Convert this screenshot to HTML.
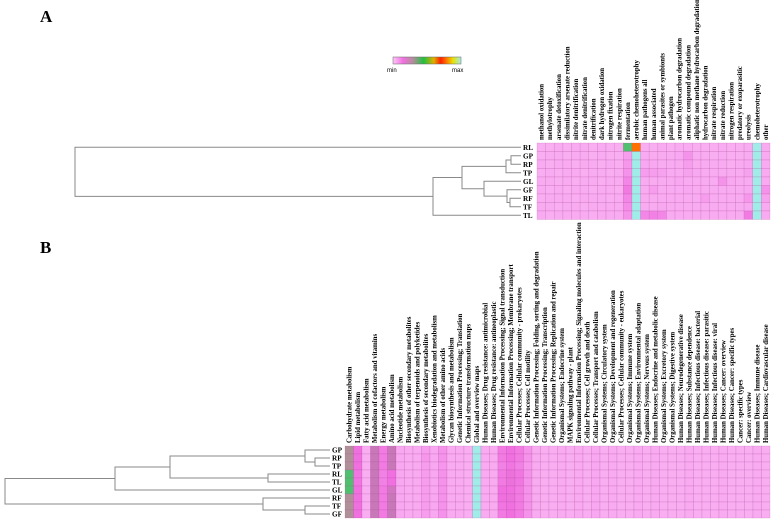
<!DOCTYPE html>
<html><head><meta charset="utf-8"><style>
html,body{margin:0;padding:0;background:#fff;}
svg{display:block;font-family:"Liberation Serif",serif;}
</style></head><body>
<svg id="chart" width="774" height="527" viewBox="0 0 774 527">
<defs>
<linearGradient id="cbar" x1="0" x2="1" y1="0" y2="0">
<stop offset="0" stop-color="#fcc8f8"/><stop offset="0.15" stop-color="#f070e0"/>
<stop offset="0.3" stop-color="#b09098"/><stop offset="0.45" stop-color="#20c040"/>
<stop offset="0.6" stop-color="#e0b000"/><stop offset="0.7" stop-color="#ff2000"/>
<stop offset="0.78" stop-color="#ff7000"/><stop offset="0.88" stop-color="#e8e000"/>
<stop offset="1" stop-color="#a0ece8"/></linearGradient></defs>
<text x="40" y="22" font-size="17" font-weight="bold">A</text>
<text x="40" y="253" font-size="17" font-weight="bold">B</text>
<g>
<rect x="393" y="57" width="68" height="7" fill="url(#cbar)" stroke="#666" stroke-width="0.5"/>
<text x="387" y="72" font-size="6" font-family="Liberation Sans,sans-serif">min</text>
<text x="452" y="72" font-size="6" font-family="Liberation Sans,sans-serif">max</text>
</g>
<g id="pa"></g>
<g id="pb"></g>
</svg>
<script>
const aRows = ["RL","GP","RP","TP","GL","GF","RF","TF","TL"];
const aCols = ["methanol oxidation","methylotrophy","arsenate detoxification","dissimilatory arsenate reduction","nitrite denitrification","nitrate denitrification","denitrification","dark hydrogen oxidation","nitrogen fixation","nitrite respiration","fermentation","aerobic chemoheterotrophy","human pathogens all","human associated","animal parasites or symbionts","plant pathogen","aromatic hydrocarbon degradation","aromatic compound degradation","aliphatic non methane hydrocarbon degradation","hydrocarbon degradation","nitrate respiration","nitrate reduction","nitrogen respiration","predatory or exoparasitic","ureolysis","chemoheterotrophy","other"];
const aVals = [
[8,8,9,8,9,9,8,9,8,8,45,75,8,8,9,8,9,9,8,8,8,9,8,8,9,100,9],
[8,9,9,8,9,9,8,9,8,8,12,100,9,9,9,9,10,14,9,9,8,9,8,8,9,100,9],
[9,8,9,9,8,9,9,8,9,8,13,100,10,10,9,9,9,12,9,9,9,9,8,9,10,100,9],
[8,9,8,9,9,8,9,9,8,9,14,100,12,12,11,9,9,11,10,9,9,9,9,9,11,100,9],
[9,9,8,9,8,9,9,8,9,9,16,100,9,9,9,9,10,9,9,9,9,14,10,9,9,100,9],
[9,8,9,8,9,9,8,9,9,8,18,100,9,12,9,9,9,10,9,9,9,9,9,9,10,100,14],
[8,9,9,9,8,9,9,9,8,9,16,100,9,9,9,9,9,9,9,12,9,9,9,9,13,100,11],
[9,9,8,9,9,8,9,9,9,9,15,100,9,9,10,9,9,9,9,9,9,9,9,9,10,100,9],
[9,8,9,9,9,9,8,9,9,9,14,100,16,17,16,9,9,9,9,9,9,9,9,9,18,100,9]];
const bRows = ["GP","RP","TP","RL","TL","GL","RF","TF","GF"];
const bCols = ["Carbohydrate metabolism","Lipid metabolism","Fatty acid metabolism","Metabolism of cofactors and vitamins","Energy metabolism","Amino acid metabolism","Nucleotide metabolism","Biosynthesis of other secondary metabolites","Metabolism of terpenoids and polyketides","Biosynthesis of secondary metabolites","Xenobiotics biodegradation and metabolism","Metabolism of other amino acids","Glycan biosynthesis and metabolism","Genetic Information Processing; Translation","Chemical structure transformation maps","Global and overview maps","Human Diseases; Drug resistance: antimicrobial","Human Diseases; Drug resistance: antineoplastic","Environmental Information Processing; Signal transduction","Environmental Information Processing; Membrane transport","Cellular Processes; Cellular community - prokaryotes","Cellular Processes; Cell motility","Genetic Information Processing; Folding, sorting and degradation","Genetic Information Processing; Transcription","Genetic Information Processing; Replication and repair","Organismal Systems; Endocrine system","MAPK signaling pathway - plant","Environmental Information Processing; Signaling molecules and interaction","Cellular Processes; Cell growth and death","Cellular Processes; Transport and catabolism","Organismal Systems; Circulatory system","Organismal Systems; Development and regeneration","Cellular Processes; Cellular community - eukaryotes","Organismal Systems; Immune system","Organismal Systems; Environmental adaptation","Organismal Systems; Nervous system","Human Diseases; Endocrine and metabolic disease","Organismal Systems; Excretory system","Organismal Systems; Digestive system","Human Diseases; Neurodegenerative disease","Human Diseases; Substance dependence","Human Diseases; Infectious disease: bacterial","Human Diseases; Infectious disease: parasitic","Human Diseases; Infectious disease: viral","Human Diseases; Cancer: overview","Human Diseases; Cancer: specific types","Cancer: specific types","Cancer: overview","Human Diseases; Immune disease","Human Diseases; Cardiovascular disease"];
const bVals = [
[33,20,8,28,18,28,10,9,9,12,10,14,9,9,8,100,9,9,18,20,18,14,9,8,8,9,8,9,8,10,8,9,8,8,9,8,9,8,8,8,9,8,8,8,9,8,8,8,9,8],
[33,20,8,28,18,28,10,9,9,13,10,14,9,9,8,100,9,9,18,20,18,14,9,8,8,9,8,9,8,10,8,9,8,8,9,8,9,8,8,8,9,8,8,8,9,8,8,8,9,8],
[33,20,8,28,18,28,10,9,9,12,10,13,9,9,8,100,9,9,17,19,17,13,9,8,8,9,8,9,8,10,8,9,8,8,9,8,9,8,8,8,9,8,8,8,9,8,8,8,9,8],
[45,19,8,28,17,20,10,9,9,12,10,14,9,9,8,100,9,9,18,21,19,14,9,8,8,9,8,9,8,10,8,9,8,8,9,8,9,8,8,8,9,8,8,8,9,8,8,8,9,8],
[45,19,8,28,17,20,10,9,9,12,10,14,9,9,8,100,9,9,18,21,19,14,9,8,8,9,8,9,8,10,8,9,8,8,9,8,9,8,8,8,9,8,8,8,9,8,8,8,9,8],
[45,20,8,28,18,26,10,9,9,12,10,14,9,9,8,100,9,9,20,20,18,14,9,8,8,9,8,9,8,10,8,9,8,8,9,8,9,8,8,8,9,8,8,8,9,8,8,8,9,8],
[33,20,8,28,18,28,10,9,9,12,10,14,9,9,8,100,9,9,20,21,18,14,9,8,8,9,8,9,8,10,8,9,8,8,9,8,9,8,8,8,9,8,8,8,9,8,8,8,9,8],
[33,20,8,28,18,28,10,9,9,12,10,14,9,9,8,100,9,9,19,20,18,14,9,8,8,9,8,9,8,10,8,9,8,8,9,8,9,8,8,8,9,8,8,8,9,8,8,8,9,8],
[33,20,8,28,18,28,10,9,9,12,10,14,9,9,8,100,9,9,18,20,18,14,9,8,8,9,8,9,8,10,8,9,8,8,9,8,9,8,8,8,9,8,8,8,9,8,8,8,9,8]];
// dendrogram links: [childA (row index or node id), childB, merge height x]
const aLinks = [[1,2,511],[3,"n0",506],[6,7,510],[5,"n2",507],[4,"n3",484],["n1","n4",462],["n5",8,433],[0,"n6",75]];
const bLinks = [[1,2,315],[0,"n0",305],[3,4,268],["n1","n2",170],["n3",5,115],[7,8,305],[6,"n5",263],["n4","n6",5]];

const NS="http://www.w3.org/2000/svg";
const stops=[[0,[252,200,248]],[10,[248,168,240]],[20,[240,112,224]],[28,[200,120,184]],[33,[176,144,152]],[45,[80,192,112]],[60,[224,192,0]],[70,[255,32,0]],[75,[255,112,0]],[85,[232,224,0]],[100,[160,236,232]]];
function color(v){for(let i=1;i<stops.length;i++){if(v<=stops[i][0]){const a=stops[i-1],b=stops[i],t=(v-a[0])/(b[0]-a[0]);return "rgb("+a[1].map((c,k)=>Math.round(c+(b[1][k]-c)*t)).join(",")+")";}}return "rgb(160,236,232)";}
function el(tag,attrs,parent){const e=document.createElementNS(NS,tag);for(const k in attrs)e.setAttribute(k,attrs[k]);parent.appendChild(e);return e;}

function panel(g,rows,cols,vals,links,cfg){
  const cw=cfg.w/cols.length, rh=cfg.rh;
  const xs=i=>cfg.x0+i*cw, ys=i=>cfg.y0+i*rh;
  const hm=el("g",{},g);
  
  
  vals.forEach((row,r)=>row.forEach((v,c)=>{
    const rc=el("rect",{x:xs(c),y:ys(r),width:cw,height:rh,fill:color(v),stroke:"rgba(170,70,150,0.35)","stroke-width":0.5},hm);
    
    
  }));
  cols.forEach((t,c)=>{
    const x=xs(c)+cw/2+2.3, y=cfg.ly;
    const tx=el("text",{x:x,y:y,"font-size":cfg.fs,"font-weight":"bold",transform:`rotate(-90 ${x} ${y})`,fill:"#000"},g);
    tx.textContent=t;
    
    
  });
  rows.forEach((t,r)=>{
    const tx=el("text",{x:cfg.lx,y:ys(r)+rh/2+2.5,"font-size":7.2,"font-weight":"bold",fill:"#000"},g);
    tx.textContent=t;
    
    
  });
  const dg=el("g",{stroke:"#8a8a8a","stroke-width":1,fill:"none"},g);
  
  
  const nodes=[];
  const pos=k=>typeof k==="number"?{x:cfg.leafX,y:ys(k)+rh/2}:nodes[+k.slice(1)];
  links.forEach(l=>{
    const a=pos(l[0]),b=pos(l[1]),h=l[2];
    const p=el("path",{d:`M${a.x},${a.y}H${h}V${b.y}H${b.x}`},dg);
    
    
    nodes.push({x:h,y:(a.y+b.y)/2});
  });
}
panel(document.getElementById("pa"),aRows,aCols,aVals,aLinks,{x0:537,w:233,y0:143,rh:8.5,ly:140,fs:6.8,lx:523,leafX:521});
panel(document.getElementById("pb"),bRows,bCols,bVals,bLinks,{x0:345,w:425,y0:446,rh:8,ly:443,fs:6.8,lx:332,leafX:330});
</script>
</body></html>
